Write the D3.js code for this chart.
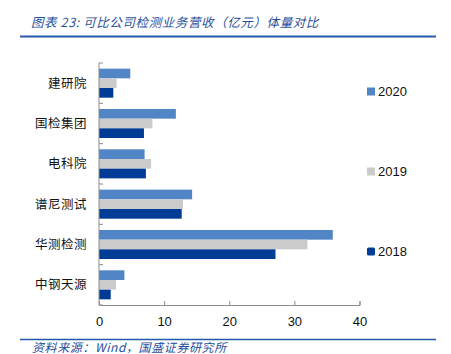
<!DOCTYPE html>
<html>
<head>
<meta charset="utf-8">
<script src="https://cdn.jsdelivr.net/npm/d3@7"></script>
<style>
  body { margin: 0; background: #fff; }
  svg { display: block; }
</style>
</head>
<body>
<div id="chart"></div>
<script>

// data (亿元)
var companies = ["建研院", "国检集团", "电科院", "谱尼测试", "华测检测", "中钢天源"];
var years = ["2020", "2019", "2018"];
var rev2020 = [4.8, 11.8, 7.0, 14.3, 35.9, 3.9];
var rev2019 = [2.7, 8.2, 8.0, 12.9, 32.0, 2.6];
var rev2018 = [2.2, 6.9, 7.2, 12.7, 27.1, 1.8];
var xTicks = [0, 10, 20, 30, 40];

var colors = {"2020": "#5185c5", "2019": "#cbcbcb", "2018": "#003c96"};
var cjk = "'Noto Sans CJK SC', sans-serif";

var w = 451, h = 354;

var svg = d3.select("#chart")
	.append("svg")
	.attr("width", w)
	.attr("height", h);

// title + rules
svg.append("text")
	.attr("x", 31)
	.attr("y", 27)
	.attr("font-family", cjk)
	.attr("font-size", 12.5)
	.attr("font-style", "italic")
	.attr("letter-spacing", "0.6px")
	.attr("fill", "#1f4e9c")
	.text("图表 23:  可比公司检测业务营收（亿元）体量对比");

svg.append("line")
	.attr("x1", 20).attr("x2", 436)
	.attr("y1", 36.5).attr("y2", 36.5)
	.attr("stroke", "#2458a8")
	.attr("stroke-width", 2);

svg.append("line")
	.attr("x1", 20).attr("x2", 436)
	.attr("y1", 339.5).attr("y2", 339.5)
	.attr("stroke", "#2458a8")
	.attr("stroke-width", 1.5);

svg.append("text")
	.attr("x", 32)
	.attr("y", 352)
	.attr("font-family", cjk)
	.attr("font-size", 12)
	.attr("font-style", "italic")
	.attr("letter-spacing", "0.6px")
	.attr("fill", "#1f4e9c")
	.text("资料来源：Wind，国盛证券研究所");

// plot area
var plotLeft = 99, plotRight = 359.5, plotTop = 63, plotBottom = 305;

var xScale = d3.scaleLinear()
	.domain([0, 40])
	.range([plotLeft, plotRight]);

var yScale = d3.scaleBand()
	.domain(companies)
	.range([plotTop, plotBottom])
	.paddingInner(0.28)
	.paddingOuter(0.14);

var inner = d3.scaleBand()
	.domain(years)
	.range([0, yScale.bandwidth()]);

var table = companies.map(function(c, i) {
	return {key: c, "2020": rev2020[i], "2019": rev2019[i], "2018": rev2018[i]};
});

var groups = svg.selectAll("g.company")
	.data(table)
	.enter()
	.append("g")
	.attr("class", "company")
	.attr("transform", d => "translate(0," + yScale(d.key) + ")");

groups.selectAll("rect")
	.data(d => years.map(y => ({year: y, value: d[y]})))
	.enter()
	.append("rect")
	.attr("x", xScale(0))
	.attr("y", d => inner(d.year))
	.attr("width", d => xScale(d.value) - xScale(0))
	.attr("height", inner.bandwidth())
	.attr("fill", d => colors[d.year]);

// x axis
var xAxis = svg.append("g")
	.attr("transform", "translate(0," + plotBottom + ")")
	.call(d3.axisBottom(xScale).tickValues(xTicks).tickSize(-4).tickPadding(12));

xAxis.select(".domain").attr("stroke", "#8c8c8c");
xAxis.selectAll(".tick line").attr("stroke", "#8c8c8c");
xAxis.selectAll("text")
	.attr("font-family", "'Liberation Sans', Arial, sans-serif")
	.attr("font-size", 13)
	.attr("fill", "#111");

// y axis: line plus small ticks at band edges
var step = yScale.step();
var edges = d3.range(companies.length + 1).map(i => plotTop + i * step);

svg.append("line")
	.attr("x1", plotLeft).attr("x2", plotLeft)
	.attr("y1", plotTop).attr("y2", plotBottom)
	.attr("stroke", "#8c8c8c");

svg.selectAll("line.ytick")
	.data(edges)
	.enter()
	.append("line")
	.attr("class", "ytick")
	.attr("x1", plotLeft).attr("x2", plotLeft + 4)
	.attr("y1", d => d).attr("y2", d => d)
	.attr("stroke", "#8c8c8c");

svg.selectAll("text.cat")
	.data(companies)
	.enter()
	.append("text")
	.attr("class", "cat")
	.attr("x", 87)
	.attr("y", d => yScale(d) + yScale.bandwidth() / 2)
	.attr("dy", "0.35em")
	.attr("text-anchor", "end")
	.attr("font-family", cjk)
	.attr("font-size", 12.5)
	.attr("letter-spacing", "0.5px")
	.attr("fill", "#111")
	.text(d => d);

// legend
var legend = svg.selectAll("g.legend")
	.data(years)
	.enter()
	.append("g")
	.attr("class", "legend")
	.attr("transform", (d, i) => "translate(367," + (91.5 + i * 80) + ")");

legend.append("rect")
	.attr("x", 0)
	.attr("y", -4)
	.attr("width", 8)
	.attr("height", 8)
	.attr("rx", d => d == "2018" ? 1.5 : 0)
	.attr("fill", d => colors[d]);

legend.append("text")
	.attr("x", 11)
	.attr("dy", "0.36em")
	.attr("font-family", "'Liberation Sans', Arial, sans-serif")
	.attr("font-size", 13)
	.attr("fill", "#111")
	.text(d => d);

</script>
</body>
</html>
